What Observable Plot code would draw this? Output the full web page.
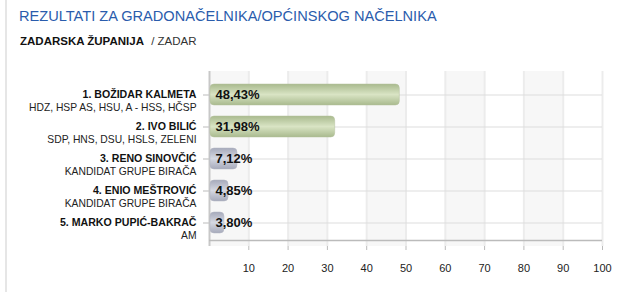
<!DOCTYPE html>
<html>
<head>
<meta charset="utf-8">
<script src="https://cdn.jsdelivr.net/npm/d3@7"></script>
<script src="https://cdn.jsdelivr.net/npm/@observablehq/plot@0.6"></script>
<style>
  html, body { margin: 0; padding: 0; background: #fff; }
  body { width: 628px; height: 292px; overflow: hidden; position: relative; font-family: "Liberation Sans", Arial, sans-serif; }
  #border { position: absolute; left: 5px; top: 0; width: 2px; height: 292px; background: #e6e6e6; }
  #title { position: absolute; left: 19px; top: 8px; font-size: 14.6px; color: #2a5cac; white-space: nowrap; }
  #subtitle { position: absolute; left: 20px; top: 35px; font-size: 11.5px; color: #111; white-space: nowrap; }
  #subtitle b { font-weight: bold; }
  #subtitle span { color: #333; margin-left: 4px; }
  #chart { position: absolute; left: 0; top: 60px; }
</style>
</head>
<body>
<div id="border"></div>
<div id="title">REZULTATI ZA GRADONAČELNIKA/OPĆINSKOG NAČELNIKA</div>
<div id="subtitle"><b>ZADARSKA ŽUPANIJA</b> <span>/ ZADAR</span></div>
<div id="chart"></div>
<script>
const names = ["1. BOŽIDAR KALMETA", "2. IVO BILIĆ", "3. RENO SINOVČIĆ", "4. ENIO MEŠTROVIĆ", "5. MARKO PUPIĆ-BAKRAČ"];
const parties = ["HDZ, HSP AS, HSU, A - HSS, HČSP", "SDP, HNS, DSU, HSLS, ZELENI", "KANDIDAT GRUPE BIRAČA", "KANDIDAT GRUPE BIRAČA", "AM"];
const values = [48.43, 31.98, 7.12, 4.85, 3.80];
const xTicks = [10, 20, 30, 40, 50, 60, 70, 80, 90, 100];

const data = names.map((n, i) => ({name: n, party: parties[i], value: values[i], i}));
const stripes = [0, ...xTicks].filter((t, k) => k % 2 === 0 && t < 100).map(t => ({x1: t, x2: t + 10}));

const fmt = v => v.toFixed(2).replace(".", ",") + "%";

const plot = Plot.plot({
  width: 628,
  height: 232,
  marginLeft: 209,
  marginRight: 26,
  marginTop: 11,
  marginBottom: 46,
  style: {fontFamily: "Liberation Sans, Arial, sans-serif", fontSize: "11px", color: "#222", background: "transparent"},
  x: {domain: [0, 100]},
  y: {domain: names, padding: 0.35},
  marks: [
    Plot.rectX(stripes, {x1: "x1", x2: "x2", fill: "#f7f7f7"}),
    Plot.ruleX(xTicks, {stroke: "#ececec", strokeWidth: 2}),
    Plot.ruleY(data, {y: "name", x1: 0, x2: 100, stroke: "#dddddd"}),
    Plot.axisY({tickSize: 6, tickFormat: () => "", stroke: "#bbb", label: null}),
    Plot.axisX({ticks: xTicks, tickSize: 4, tickPadding: 14, stroke: "#bbb", label: null, fill: "#222", fontSize: 11}),
    Plot.ruleX([0], {stroke: "#c8c8c8", strokeWidth: 2}),
    Plot.ruleY([0], {x1: 0, x2: 100, y: () => names[names.length - 1], dy: 17.5, stroke: "#bbb", strokeWidth: 1.5}),
    Plot.barX(data, {x: "value", y: "name", rx: 4, insetLeft: 1,
      fill: d => d.i < 2 ? "url(#gGreen)" : "url(#gGray)",
      stroke: d => d.i < 2 ? "#b4c19c" : "#b2b5c2", strokeWidth: 0.5}),
    Plot.text(data, {x: 0, y: "name", text: d => fmt(d.value), textAnchor: "start", dx: 6, fontWeight: "bold", fontSize: 13, fill: "#111"}),
    Plot.text(data, {x: 0, y: "name", text: "name", textAnchor: "end", dx: -13, dy: 0, fontWeight: "bold", fontSize: 10.6, fill: "#111"}),
    Plot.text(data, {x: 0, y: "name", text: "party", textAnchor: "end", dx: -13, dy: 13, fontSize: 10.3, fill: "#222"})
  ]
});

const ns = "http://www.w3.org/2000/svg";
const defs = document.createElementNS(ns, "defs");
function grad(id, edge, mid) {
  const g = document.createElementNS(ns, "linearGradient");
  g.setAttribute("id", id);
  g.setAttribute("x1", "0"); g.setAttribute("y1", "0");
  g.setAttribute("x2", "0"); g.setAttribute("y2", "1");
  [[0, edge], [0.5, mid], [1, edge]].forEach(([o, c]) => {
    const s = document.createElementNS(ns, "stop");
    s.setAttribute("offset", o);
    s.setAttribute("stop-color", c);
    g.appendChild(s);
  });
  defs.appendChild(g);
}
grad("gGreen", "#a9ba8e", "#d9e4c4");
grad("gGray", "#a6aabb", "#d5d8e2");
plot.insertBefore(defs, plot.firstChild);

document.getElementById("chart").appendChild(plot);
</script>
</body>
</html>
